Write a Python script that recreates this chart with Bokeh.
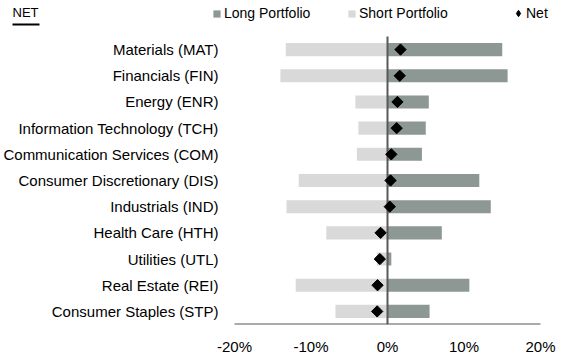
import numpy as np
from bokeh.plotting import figure
from bokeh.models import (ColumnDataSource, Range1d, Legend, LegendItem,
                          Label, BoxAnnotation, FixedTicker, PrintfTickFormatter)
from bokeh.core.properties import value
from bokeh.embed import file_html
from bokeh.resources import INLINE

categories = ["Materials (MAT)", "Financials (FIN)", "Energy (ENR)", "Information Technology (TCH)",
              "Communication Services (COM)", "Consumer Discretionary (DIS)", "Industrials (IND)",
              "Health Care (HTH)", "Utilities (UTL)", "Real Estate (REI)", "Consumer Staples (STP)"]
long_pf = [15.0, 15.7, 5.4, 5.0, 4.5, 12.0, 13.5, 7.1, 0.5, 10.7, 5.5]
short_pf = [-13.3, -14.0, -4.2, -3.8, -4.0, -11.6, -13.2, -8.0, -1.4, -12.0, -6.8]
net = [1.7, 1.6, 1.3, 1.2, 0.5, 0.4, 0.3, -0.9, -1.0, -1.3, -1.35]
x_ticks = [-20, -10, 0, 10, 20]

LONG_C = "#8D9794"
SHORT_C = "#D9D9D9"
AX_C = "#595959"
FONT = "Liberation Sans"

n = len(categories)
ypos = list(range(n - 1, -1, -1))  # first category on top

src = ColumnDataSource(dict(cat=categories, y=ypos, long=long_pf, short=short_pf, net=net,
                            zero=[0] * n, lab_x=[x_ticks[0]] * n))

# layout: plot area spans 234..540 px for the tick range, rows 26.2 px apart
W, H = 562, 361
FRAME_BOTTOM = 324
PX_PER = (540 - 234) / (x_ticks[-1] - x_ticks[0])
x_start = x_ticks[0] - 234 / PX_PER
x_end = x_ticks[-1] + (W - 540) / PX_PER
BAND = (FRAME_BOTTOM - 36) / n
y_start = -0.5
y_end = -0.5 + FRAME_BOTTOM / BAND

p = figure(width=W, height=H, output_backend="svg", toolbar_location=None,
           x_range=Range1d(x_start, x_end), y_range=Range1d(y_start, y_end),
           y_axis_location=None,
           min_border_left=0, min_border_right=0, min_border_top=0, min_border_bottom=H - FRAME_BOTTOM)
p.outline_line_color = None
p.xgrid.visible = False
p.ygrid.visible = False
p.background_fill_color = "white"
p.border_fill_color = "white"

r_long = p.hbar(y="y", left="zero", right="long", height=0.5, source=src,
                fill_color=LONG_C, line_color=None)
r_short = p.hbar(y="y", left="short", right="zero", height=0.5, source=src,
                 fill_color=SHORT_C, line_color=None)

# zero line over the category bands and x axis line over the tick range
p.segment(x0=[0], x1=[0], y0=[-0.5], y1=[n - 0.5], line_color=AX_C, line_width=2)
p.segment(x0=[x_ticks[0]], x1=[x_ticks[-1]], y0=[-0.5], y1=[-0.5], line_color=AX_C, line_width=2)

# diamond marker (used for the legend key; hidden under the rotated squares)
r_net_key = p.scatter(x="net", y="y", source=src, marker="diamond", size=6,
                      fill_color="black", line_color="black", line_width=1)
r_net = p.scatter(x="net", y="y", source=src, marker="square", size=8, angle=np.pi / 4,
                  fill_color="black", line_color="black")

# category labels
p.text(x="lab_x", y="y", text="cat", source=src, x_offset=-16, text_align="right",
       text_baseline="middle", text_font=value(FONT), text_font_size="15px", text_color="black")

xa = p.xaxis[0]
xa.ticker = FixedTicker(ticks=x_ticks)
xa.formatter = PrintfTickFormatter(format="%d%%")
xa.axis_line_color = None
xa.major_tick_line_color = None
xa.minor_tick_line_color = None
xa.major_tick_out = 0
xa.major_tick_in = 0
xa.major_label_standoff = 13
xa.major_label_text_font = FONT
xa.major_label_text_font_size = "15px"
xa.major_label_text_color = "black"


def mk_legend(label, rend, x, gw, gh, standoff):
    lg = Legend(items=[LegendItem(label=label, renderers=[rend])], location=(x, 303),
                orientation="horizontal", padding=0, margin=0, border_line_color=None,
                background_fill_alpha=0, glyph_width=gw, glyph_height=gh, label_standoff=standoff,
                label_height=16, label_text_font=FONT, label_text_font_size="14px",
                label_text_color="black")
    p.add_layout(lg)


mk_legend("Long Portfolio", r_long, 212, 9, 9, 3)
mk_legend("Short Portfolio", r_short, 347, 9, 9, 3)
mk_legend("Net", r_net_key, 510, 16, 16, 0)

title = Label(x=12, y=312, x_units="screen", y_units="screen", text="NET",
              text_font=FONT, text_font_size="13px", text_color="black", text_baseline="middle")
p.add_layout(title)
underline = BoxAnnotation(left=12, right=39, bottom=299, top=301,
                          left_units="screen", right_units="screen",
                          top_units="screen", bottom_units="screen",
                          fill_color="black", fill_alpha=1, line_color=None)
p.add_layout(underline)

open("out.html", "w").write(file_html(p, INLINE))
